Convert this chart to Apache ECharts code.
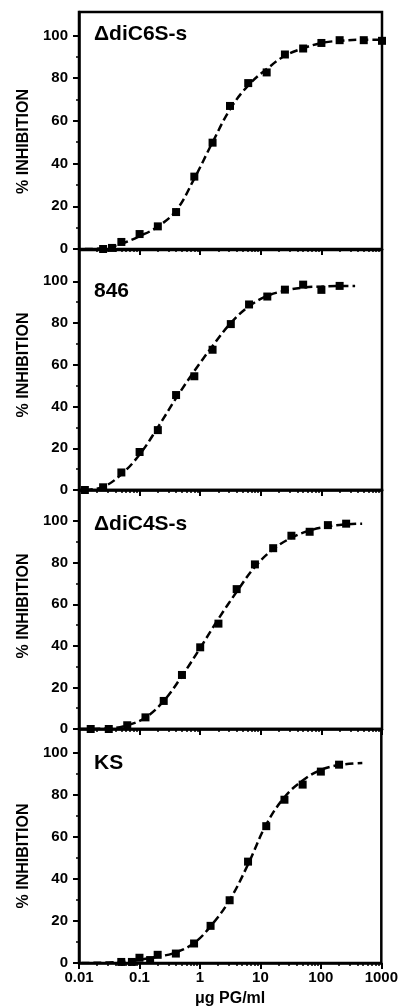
<!DOCTYPE html>
<html><head><meta charset="utf-8">
<script src="https://cdn.jsdelivr.net/npm/echarts@6/dist/echarts.min.js"></script>
<style>html,body{margin:0;padding:0;background:#fff}#c{width:401px;height:1008px}</style>
</head><body><div id="c"></div><script>
// ---- data ----
const panelTitles = ['\u0394diC6S-s', '846', '\u0394diC4S-s', 'KS'];
const xTickLabels = ['0.01', '0.1', '1', '10', '100', '1000'];
const xMinorValues = [0.02,0.03,0.04,0.05,0.06,0.07,0.08,0.09,
                      0.2,0.3,0.4,0.5,0.6,0.7,0.8,0.9,
                      2,3,4,5,6,7,8,9,
                      20,30,40,50,60,70,80,90,
                      200,300,400,500,600,700,800,900];
const yTickValues = [0, 20, 40, 60, 80, 100];
const yTickLabels = ['0', '20', '40', '60', '80', '100'];
const yMinorValues = [10, 30, 50, 70, 90];

// Panel 1: ΔdiC6S-s
const p1X = [0.025, 0.035, 0.05, 0.1, 0.2, 0.4, 0.8, 1.6, 3.1, 6.2, 12.5, 25, 50, 100, 200, 500, 1000];
const p1Y = [0, 0.5, 3.3, 7, 10.6, 17.3, 33.9, 49.8, 67, 77.7, 82.7, 91.1, 93.9, 96.5, 97.8, 97.8, 97.5];
const c1X = [0.0125, 0.025, 0.05, 0.1, 0.2, 0.4, 0.8, 1.6, 3.2, 6.4, 12.8, 25, 50, 100, 200, 500, 1000];
const c1Y = [0, 0.3, 2.5, 6, 10.5, 18, 33, 50, 66, 77, 84.5, 90.5, 94, 96.5, 97.5, 98, 98];

// Panel 2: 846
const p2X = [0.0125, 0.025, 0.05, 0.1, 0.2, 0.4, 0.8, 1.6, 3.2, 6.4, 12.8, 25, 50, 100, 200];
const p2Y = [0, 1.3, 8.4, 18.2, 28.7, 45.5, 54.5, 67.2, 79.5, 88.9, 92.7, 96, 98.4, 95.9, 97.8];
const c2X = [0.0125, 0.025, 0.05, 0.1, 0.2, 0.4, 0.8, 1.6, 3.2, 6.4, 12.8, 25, 50, 100, 200, 360];
const c2Y = [0, 1.5, 7.5, 17, 30, 44, 57, 69, 80, 88, 93, 95.5, 97, 97.5, 97.8, 97.8];

// Panel 3: ΔdiC4S-s
const p3X = [0.0156, 0.031, 0.0625, 0.125, 0.25, 0.5, 1, 2, 4, 8, 16, 32, 64, 128, 256];
const p3Y = [0, 0, 1.8, 5.6, 13.5, 26, 39.3, 50.7, 67.3, 79.2, 87, 93, 94.9, 98.1, 98.8];
const c3X = [0.0105, 0.031, 0.0625, 0.125, 0.25, 0.5, 1, 2, 4, 8, 16, 32, 64, 128, 256, 470];
const c3Y = [0, 0.3, 1.8, 5.5, 13.5, 25.5, 39, 53, 66, 78, 86.5, 92, 95.5, 97.5, 98.5, 98.8];

// Panel 4: KS
const p4X = [0.05, 0.075, 0.1, 0.15, 0.2, 0.4, 0.8, 1.5, 3.1, 6.25, 12.5, 25, 50, 100, 200];
const p4Y = [0.5, 0.5, 2.5, 1.4, 3.9, 4.5, 9.3, 17.7, 29.9, 48.3, 65.2, 77.8, 85, 91.2, 94.5];
const c4X = [0.011, 0.05, 0.1, 0.2, 0.4, 0.8, 1.5, 3.1, 6.25, 12.5, 25, 50, 100, 200, 485];
const c4Y = [0, 0.5, 1.5, 3, 5, 9.5, 17.5, 30, 47, 66, 79, 87, 92, 94.3, 95.3];

// ---- build chart ----
const FONT = 'Liberation Sans';
const zip = (a, b) => a.map((v, i) => [v, b[i]]);
const panels = [
  { px: p1X, py: p1Y, cx: c1X, cy: c1Y },
  { px: p2X, py: p2Y, cx: c2X, cy: c2Y },
  { px: p3X, py: p3Y, cx: c3X, cy: c3Y },
  { px: p4X, py: p4Y, cx: c4X, cy: c4Y }
];
const layout = [
  { top: 12,  height: 237, max: 111,   titleTop: 24,  namePad: [0, 22, 0, 0] },
  { top: 250, height: 240, max: 115,   titleTop: 281, namePad: [0, 0, 0, 10] },
  { top: 490, height: 239, max: 115,   titleTop: 514, namePad: [0, 0, 0, 7] },
  { top: 729, height: 236, max: 111.5, titleTop: 753, namePad: [0, 20, 0, 0] }
];

const grid = [], xAxis = [], yAxis = [], series = [], title = [];
layout.forEach((L, i) => {
  const P = panels[i];
  const last = i === 3;
  grid.push({ left: 79, right: 19, top: L.top, height: L.height, show: true,
    borderColor: '#000', borderWidth: 2.5, backgroundColor: 'transparent' });
  xAxis.push({
    type: 'log', gridIndex: i, min: 0.01, max: 1000, position: 'bottom', splitNumber: 5,
    axisLine: { show: true, onZero: false, lineStyle: { color: '#000', width: 2.5 } },
    axisTick: { show: true, inside: false, length: 6, lineStyle: { color: '#000', width: 2 } },
    axisLabel: { show: last, margin: 7, fontFamily: FONT, fontWeight: 'bold', fontSize: 15, color: '#000',
      formatter: (v, idx) => xTickLabels[idx] },
    splitLine: { show: false },
    name: last ? '\u03bcg PG/ml' : '', nameLocation: 'middle', nameGap: 28,
    nameTextStyle: { fontFamily: FONT, fontWeight: 'bold', fontSize: 16, color: '#000' }
  });
  xAxis.push({
    type: 'log', gridIndex: i, min: 0.01, max: 1000, position: 'bottom',
    axisLine: { show: false },
    axisTick: { show: true, inside: false, length: 3, customValues: xMinorValues,
      lineStyle: { color: '#000', width: 1.5 } },
    axisLabel: { show: false }, splitLine: { show: false }
  });
  yAxis.push({
    type: 'value', gridIndex: i, min: 0, max: L.max, position: 'left',
    axisLine: { show: true, onZero: false, lineStyle: { color: '#000', width: 2.5 } },
    axisTick: { show: true, inside: false, length: 6, customValues: yTickValues,
      lineStyle: { color: '#000', width: 2 } },
    axisLabel: { show: true, customValues: yTickValues, margin: 11, fontFamily: FONT,
      fontWeight: 'bold', fontSize: 15, color: '#000',
      formatter: v => yTickLabels[yTickValues.indexOf(v)] },
    splitLine: { show: false },
    name: '% INHIBITION', nameLocation: 'middle', nameGap: 46,
    nameTextStyle: { fontFamily: FONT, fontWeight: 'bold', fontSize: 16, color: '#000', padding: L.namePad }
  });
  yAxis.push({
    type: 'value', gridIndex: i, min: 0, max: L.max, position: 'left',
    axisLine: { show: false },
    axisTick: { show: true, inside: false, length: 3, customValues: yMinorValues,
      lineStyle: { color: '#000', width: 1.5 } },
    axisLabel: { show: false }, splitLine: { show: false }
  });
  series.push({
    type: 'line', xAxisIndex: 2 * i, yAxisIndex: 2 * i, data: zip(P.cx, P.cy),
    smooth: 0.4, showSymbol: false, symbol: 'none', silent: true, z: 2,
    lineStyle: { color: '#000', width: 2.5, type: [8, 4] }
  });
  series.push({
    type: 'scatter', xAxisIndex: 2 * i, yAxisIndex: 2 * i, data: zip(P.px, P.py),
    symbol: 'rect', symbolSize: 8, itemStyle: { color: '#000', opacity: 1 }, z: 3
  });
  title.push({
    text: panelTitles[i], left: 94, top: L.titleTop, padding: 0,
    textStyle: { fontFamily: FONT, fontSize: 21, fontWeight: 'bold', color: '#000' }
  });
});

const chart = echarts.init(document.getElementById('c'));
chart.setOption({ animation: false, backgroundColor: '#fff', title, grid, xAxis, yAxis, series });
</script></body></html>
